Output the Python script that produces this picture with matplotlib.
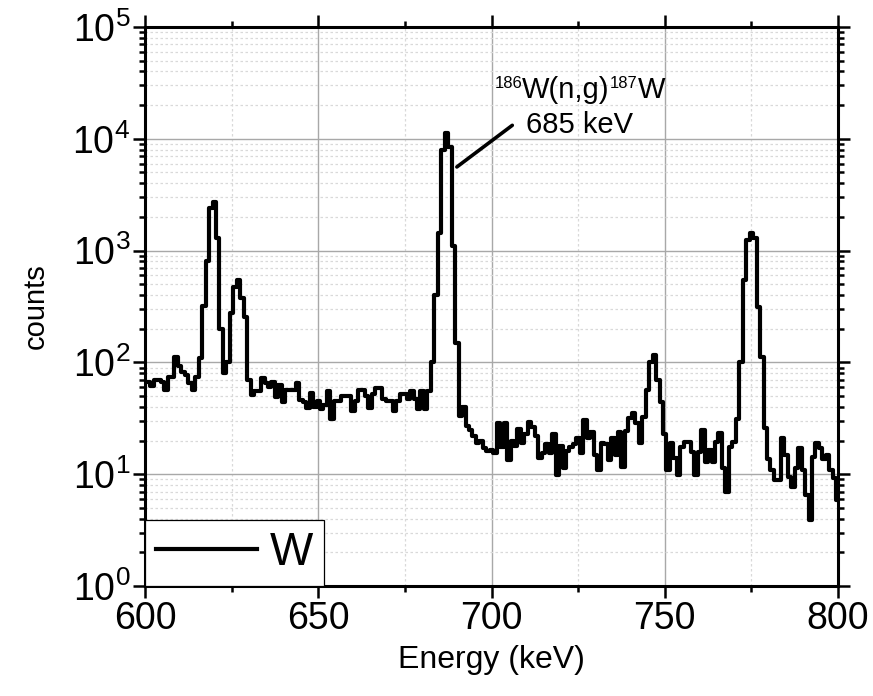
import numpy as np
import matplotlib.pyplot as plt
from matplotlib.ticker import MultipleLocator, LogLocator, NullFormatter
from matplotlib.offsetbox import TextArea, HPacker, AnnotationBbox

# gamma spectrum, 1 keV bins from 600 to 800 keV
bin_start = 600
bin_width = 1

counts_600_649 = [67, 67, 61, 69, 69, 67, 57, 74, 74, 112,
                  92, 82, 77, 65, 57, 74, 110, 320, 800, 2400,
                  2737, 1300, 200, 80, 100, 277, 475, 546, 380, 256,
                  70, 51, 55, 55, 72, 65, 60, 67, 49, 63,
                  44, 57, 57, 57, 65, 46, 44, 39, 53, 40]
counts_650_699 = [45, 38, 42, 55, 31, 45, 45, 50, 50, 50,
                  37, 45, 57, 57, 50, 39, 52, 59, 59, 47,
                  45, 45, 37, 45, 52, 52, 47, 55, 47, 38,
                  55, 38, 55, 100, 400, 1437, 8000, 11200, 8500, 1100,
                  150, 33, 40, 27, 25, 22, 19, 20, 17, 16]
counts_700_749 = [16.5, 15.5, 28.7, 17.6, 28.7, 13.4, 20, 18, 25.6, 19,
                  23, 29.5, 26.5, 22, 14, 15.4, 18.5, 15.4, 23, 9.8,
                  18, 11.4, 16, 17.6, 18.5, 21, 15.4, 30.5, 21, 24,
                  15, 11, 19, 18.5, 13.4, 21, 15, 24, 11.7, 24.5,
                  31.8, 35, 28.7, 19, 32.5, 56.6, 101, 116, 69.6, 44.6]
counts_750_800 = [23, 10.9, 18.9, 13.9, 9.8, 17.6, 19.5, 19.5, 15.9, 9.8,
                  15.9, 24.9, 12.9, 16.4, 12.9, 19.5, 23.2, 11.3, 7.0, 17.6,
                  19.5, 31, 100, 546, 1250, 1429, 1300, 315, 112, 26,
                  13.8, 11, 8.9, 8.9, 21, 14.8, 9.5, 7.7, 11.3, 17,
                  10.9, 6.5, 3.9, 14.3, 18.9, 17, 13.8, 14.8, 10.9, 9.3,
                  5.9]

# reaction label pieces: (text, is superscript)
peak_label_parts = [("186", True), ("W(n,g)", False), ("187", True), ("W", False)]
peak_energy_label = "685 keV"


def run_demo():
    plt.rcParams['font.family'] = ['Liberation Sans', 'DejaVu Sans']
    plt.rcParams['mathtext.fontset'] = 'custom'
    plt.rcParams['mathtext.rm'] = 'Liberation Sans'
    plt.rcParams['mathtext.it'] = 'Liberation Sans:italic'
    plt.rcParams['mathtext.bf'] = 'Liberation Sans:bold'

    counts = np.array(counts_600_649 + counts_650_699 +
                      counts_700_749 + counts_750_800)
    energy = bin_start + bin_width * np.arange(len(counts))

    fig = plt.figure(figsize=(8.73, 6.96), dpi=100)
    ax = fig.add_axes([145 / 873, 1 - 586 / 696, 693 / 873, 559 / 696])

    ax.step(energy, counts, where="mid", color="black", lw=3.0, label="W",
            solid_joinstyle="round")

    # pointer from the peak to its label
    ax.annotate("", xy=(690, 5600), xytext=(706, 13200),
                arrowprops=dict(arrowstyle="-", color="black", lw=2.6,
                                shrinkA=0, shrinkB=0))
    pieces = [TextArea(txt, textprops=dict(fontsize=12 if sup else 21))
              for txt, sup in peak_label_parts]
    label_box = HPacker(children=pieces, align="top", pad=0, sep=0)
    ax.add_artist(AnnotationBbox(label_box, (725.5, 20500), frameon=False,
                                 box_alignment=(0.5, 0.0), pad=0))
    ax.text(725.5, 11200, peak_energy_label, ha="center", va="baseline",
            fontsize=21)

    ax.set_yscale("log")
    ax.set_xlim(600, 800)
    ax.set_ylim(1, 1e5)

    ax.xaxis.set_major_locator(MultipleLocator(50))
    ax.xaxis.set_minor_locator(MultipleLocator(25))
    ax.yaxis.set_major_locator(LogLocator(base=10, numticks=10))
    ax.yaxis.set_minor_locator(LogLocator(base=10, subs=np.arange(2, 10),
                                          numticks=20))
    ax.yaxis.set_minor_formatter(NullFormatter())

    ax.set_axisbelow(True)
    ax.grid(which="major", color="#a8a8a8", lw=1.0, ls="-")
    ax.grid(which="minor", color="#d9d9d9", lw=0.9, ls=(0, (2, 2)))

    for side in ["left", "right", "top", "bottom"]:
        ax.spines[side].set_linewidth(2.2)
    ax.tick_params(which="both", direction="out", top=True, right=True,
                   width=1.8, labelsize=27)
    ax.tick_params(which="major", length=8.5, pad=2)
    ax.tick_params(which="minor", length=4.5)

    ax.set_xlabel("Energy (keV)", fontsize=23, labelpad=6)
    ax.set_ylabel("counts", fontsize=21)
    ax.yaxis.set_label_coords(-0.137, 0.5)

    leg = ax.legend(loc="lower left", fontsize=33, borderaxespad=0,
                    handlelength=2.2, handletextpad=0.28, borderpad=0.24,
                    fancybox=False, framealpha=1, edgecolor="black")
    leg.get_frame().set_linewidth(0.9)
    for line in leg.get_lines():
        line.set_linewidth(3)

    plt.savefig("out.png", dpi=100)


if __name__ == "__main__":
    run_demo()
